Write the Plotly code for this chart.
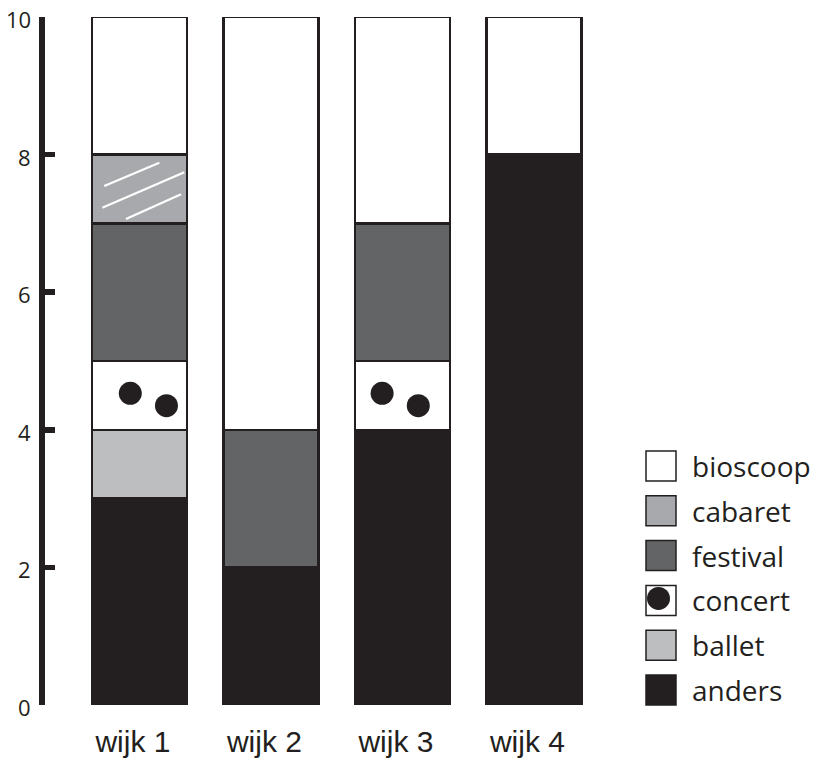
import plotly.graph_objects as go

# ---------------- data ----------------
wijken = ["wijk 1", "wijk 2", "wijk 3", "wijk 4"]
anders = [3, 2, 4, 8]
ballet = [1, 0, 0, 0]
concert = [1, 0, 1, 0]
festival = [2, 2, 2, 0]
cabaret = [1, 0, 0, 0]
bioscoop = [2, 6, 3, 2]
y_ticks = [0, 2, 4, 6, 8, 10]

# ---------------- style ----------------
INK = "#231f20"
COL = {
    "anders": INK,
    "ballet": "#bcbec0",
    "concert": "#ffffff",
    "festival": "#636466",
    "cabaret": "#a7a9ac",
    "bioscoop": "#ffffff",
}
W, H = 819, 760
PLOT_L, PLOT_R, PLOT_T, PLOT_B = 45, 640, 17, 705   # in window pixels
ML, MR, MT, MB = PLOT_L, W - PLOT_R, PLOT_T, H - PLOT_B
PX_PER_X = 131.5
X_FIRST_PX = 139.5
BAR_W = 0.725
LABEL_SHIFT = 0.05
YLABEL_RIGHT_PX = 33
# decorative pattern offsets (relative to segment)
DOT_DX = {0: (-0.07, 0.205), 2: (-0.155, 0.12)}
DOT_DY = (0.53, 0.35)
HATCH = [((-0.268, 0.544), (0.151, 0.882)),
         ((-0.283, 0.228), (0.341, 0.743)),
         ((-0.103, 0.064), (0.316, 0.423))]

xs = [i + 1 for i in range(len(wijken))]
plot_w = PLOT_R - PLOT_L
plot_h = PLOT_B - PLOT_T
x0 = 1 - (X_FIRST_PX - PLOT_L) / PX_PER_X
x1 = x0 + plot_w / PX_PER_X

series = [("anders", anders), ("ballet", ballet), ("concert", concert),
          ("festival", festival), ("cabaret", cabaret), ("bioscoop", bioscoop)]

fig = go.Figure()
bases = {}
cum = [0] * len(xs)
for name, vals in series:
    bases[name] = list(cum)
    fig.add_trace(go.Bar(
        x=xs, y=vals, name=name, width=BAR_W, showlegend=False,
        marker=dict(color=COL[name], line=dict(color=INK, width=2.5)),
        hoverinfo="skip",
    ))
    cum = [c + v for c, v in zip(cum, vals)]

# concert dots
dx_, dy_ = [], []
for i, v in enumerate(concert):
    if v > 0:
        offs = DOT_DX.get(i, (-0.11, 0.16))
        for k in range(2):
            dx_.append(xs[i] + offs[k])
            dy_.append(bases["concert"][i] + DOT_DY[k] * v)
fig.add_trace(go.Scatter(x=dx_, y=dy_, mode="markers", showlegend=False,
                         marker=dict(size=23, color=INK, line=dict(width=0)),
                         hoverinfo="skip"))

# cabaret hatch
hx, hy = [], []
for i, v in enumerate(cabaret):
    if v > 0:
        for (a, b) in HATCH:
            hx += [xs[i] + a[0], xs[i] + b[0], None]
            hy += [bases["cabaret"][i] + a[1] * v, bases["cabaret"][i] + b[1] * v, None]
fig.add_trace(go.Scatter(x=hx, y=hy, mode="lines", showlegend=False,
                         line=dict(color="white", width=2.2), hoverinfo="skip"))

# window pixel -> paper coords
def px_x(p):
    return (p - PLOT_L) / plot_w

def px_y(p):
    return 1 - (p - PLOT_T) / plot_h

shapes = []
annotations = []

# y tick labels (slightly below tick, as in the reference)
for v in y_ticks:
    annotations.append(dict(xref="paper", yref="y", x=px_x(YLABEL_RIGHT_PX), y=v,
                            text=str(v), showarrow=False, xanchor="right",
                            yanchor="middle", yshift=-2,
                            font=dict(family="Open Sans", size=22, color=INK)))

# custom legend
legend_items = ["bioscoop", "cabaret", "festival", "concert", "ballet", "anders"]
top0, step, size = 451, 44.8, 30
sq_l = 646
for j, name in enumerate(legend_items):
    t = top0 + j * step
    shapes.append(dict(type="rect", xref="paper", yref="paper",
                       x0=px_x(sq_l), x1=px_x(sq_l + size),
                       y0=px_y(t + size), y1=px_y(t),
                       fillcolor=COL[name], line=dict(color=INK, width=1.5)))
    if name == "concert":
        cx, cy, r = sq_l + 12.5, t + 13, 11.5
        shapes.append(dict(type="circle", xref="paper", yref="paper",
                           x0=px_x(cx - r), x1=px_x(cx + r),
                           y0=px_y(cy + r), y1=px_y(cy - r),
                           fillcolor=INK, line=dict(width=0)))
    annotations.append(dict(xref="paper", yref="paper", x=px_x(690), y=px_y(t + size / 2),
                            text=name, showarrow=False, xanchor="left", yanchor="middle",
                            font=dict(family="Open Sans", size=28, color=INK)))

fig.update_layout(
    width=W, height=H,
    margin=dict(l=ML, r=MR, t=MT, b=MB, pad=0, autoexpand=False),
    paper_bgcolor="white", plot_bgcolor="white",
    barmode="stack", bargap=0,
    shapes=shapes, annotations=annotations,
    hovermode=False,
    xaxis=dict(range=[x0, x1], showgrid=False, zeroline=False, showline=False,
               automargin=False,
               tickvals=[x - LABEL_SHIFT for x in xs], ticktext=wijken, ticks="",
               tickfont=dict(family="Liberation Sans", size=30, color=INK),
               ticklabelstandoff=16),
    yaxis=dict(range=[0, 10], showgrid=False, zeroline=False, automargin=False,
               showline=True, linewidth=6, linecolor=INK,
               tickvals=y_ticks, ticks="inside", ticklen=10, tickwidth=5.5, tickcolor=INK,
               showticklabels=False),
    showlegend=False,
)

fig.write_html("out.html", config={"displayModeBar": False, "staticPlot": True},
               post_script="document.body.style.margin='0';document.body.style.overflow='hidden';")
